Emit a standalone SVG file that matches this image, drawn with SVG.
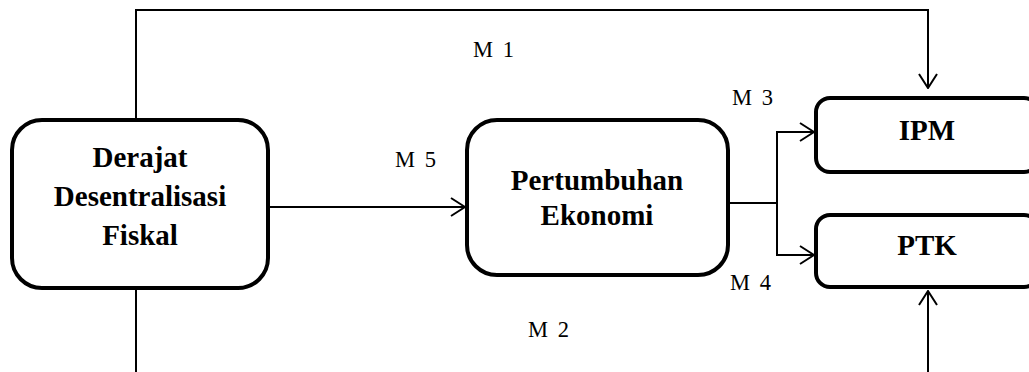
<svg xmlns="http://www.w3.org/2000/svg" width="1029" height="372" viewBox="0 0 1029 372">
  <style>
    .box { fill: #ffffff; stroke: #000000; stroke-width: 4; }
    .title { font-family: 'Liberation Serif', 'Times New Roman', Times, serif; font-weight: 700; font-size: 29px; text-anchor: middle; fill: #000000; }
    .lbl { font-family: 'Liberation Serif', 'Times New Roman', Times, serif; font-size: 22.5px; word-spacing: 4px; fill: #000000; }
    .wire { fill: none; stroke: #000000; stroke-width: 2; }
  </style>
  <defs>
    <marker id="arrow" viewBox="0 0 16 20" refX="15" refY="10" markerWidth="16" markerHeight="20" markerUnits="userSpaceOnUse" orient="auto">
      <path d="M1,1 L15,10 L1,19" fill="none" stroke="#000000" stroke-width="2"/>
    </marker>
  </defs>

  <rect width="1029" height="372" fill="#ffffff"/>

  <g id="connectors">
    <!-- M1: top loop to IPM -->
    <path class="wire" d="M136,120 V10 H928 V88" marker-end="url(#arrow)"/>
    <!-- M2: bottom loop to PTK -->
    <path class="wire" d="M136,288 V372 M928,372 V291" marker-end="url(#arrow)"/>
    <!-- M5 -->
    <path class="wire" d="M268,207 H465" marker-end="url(#arrow)"/>
    <!-- M3 / M4 split -->
    <path class="wire" d="M728,203 H777"/>
    <path class="wire" d="M777,203 V132 H814" marker-end="url(#arrow)"/>
    <path class="wire" d="M777,203 V255 H814" marker-end="url(#arrow)"/>
  </g>

  <g id="node-ddf">
    <rect class="box" x="12" y="120" width="256" height="168" rx="30"/>
    <text class="title" x="140" y="167">Derajat</text>
    <text class="title" x="140" y="206">Desentralisasi</text>
    <text class="title" x="140" y="245">Fiskal</text>
  </g>

  <g id="node-pe">
    <rect class="box" x="467" y="120" width="261" height="155" rx="30"/>
    <text class="title" x="597" y="190">Pertumbuhan</text>
    <text class="title" x="597" y="225">Ekonomi</text>
  </g>

  <g id="node-ipm">
    <rect class="box" x="816" y="98" width="222" height="74" rx="14"/>
    <text class="title" x="927" y="140">IPM</text>
  </g>

  <g id="node-ptk">
    <rect class="box" x="816" y="215" width="222" height="72" rx="14"/>
    <text class="title" x="927" y="255">PTK</text>
  </g>

  <g id="labels">
    <text class="lbl" x="473" y="57">M 1</text>
    <text class="lbl" x="528" y="337">M 2</text>
    <text class="lbl" x="732" y="105">M 3</text>
    <text class="lbl" x="730" y="290">M 4</text>
    <text class="lbl" x="395" y="167">M 5</text>
  </g>
</svg>
